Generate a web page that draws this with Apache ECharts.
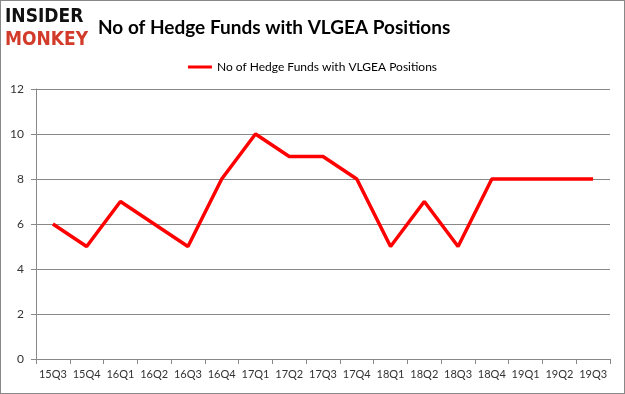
<!DOCTYPE html>
<html><head><meta charset="utf-8">
<script src="https://cdn.jsdelivr.net/npm/echarts@6/dist/echarts.min.js"></script>
<style>html,body{margin:0;padding:0;background:#fff}#c{width:625px;height:394px;box-sizing:border-box;border:1px solid #888}</style>
</head><body><div id="c"></div>
<script>
const categories = ["15Q3","15Q4","16Q1","16Q2","16Q3","16Q4","17Q1","17Q2","17Q3","17Q4","18Q1","18Q2","18Q3","18Q4","19Q1","19Q2","19Q3"];
const seriesName = "No of Hedge Funds with VLGEA Positions";
const values = [6,5,7,6,5,8,10,9,9,8,5,7,5,8,8,8,8];
const yTicks = [0,2,4,6,8,10,12];

const chart = echarts.init(document.getElementById('c'), null, {renderer:'canvas'});
chart.setOption({
  animation:false,
  title:{text:"No of Hedge Funds with VLGEA Positions", left:92, top:12,
    textStyle:{fontFamily:"Lato", fontWeight:'bold', fontSize:19, color:'#000'}},
  graphic:[
    {type:'text', left:4, top:7, style:{text:'INSIDER', font:'900 19px "DejaVu Sans Condensed"', fill:'#111'}},
    {type:'text', left:4, top:30, style:{text:'MONKEY', font:'900 19px "DejaVu Sans Condensed"', fill:'#d23b2a'}}
  ],
  legend:{top:55, left:'center', itemWidth:24, itemHeight:3, itemGap:2,
    textStyle:{fontFamily:"Lato", fontSize:12, color:'#000'},
    data:[{name:seriesName, icon:'rect'}]},
  grid:{left:35, right:14, top:88, bottom:34, containLabel:false},
  xAxis:{type:'category', data:categories, boundaryGap:true,
    axisLine:{lineStyle:{color:'#888'}}, axisTick:{show:true, alignWithLabel:false, length:5, lineStyle:{color:'#888'}},
    axisLabel:{fontFamily:"Lato", fontSize:11, color:'#333', interval:0, margin:10}},
  yAxis:{type:'value', min:0, max:12, interval:2,
    axisLine:{show:true, lineStyle:{color:'#888'}}, axisTick:{show:true, length:5, inside:false, lineStyle:{color:'#888'}},
    splitLine:{lineStyle:{color:'#888'}},
    axisLabel:{fontFamily:"Lato", fontSize:12, color:'#333', margin:12}},
  series:[{name:seriesName, type:'line', data:values, symbol:'none',
    lineStyle:{color:'#ff0000', width:3.5}, itemStyle:{color:'#ff0000'}}]
});
</script></body></html>
